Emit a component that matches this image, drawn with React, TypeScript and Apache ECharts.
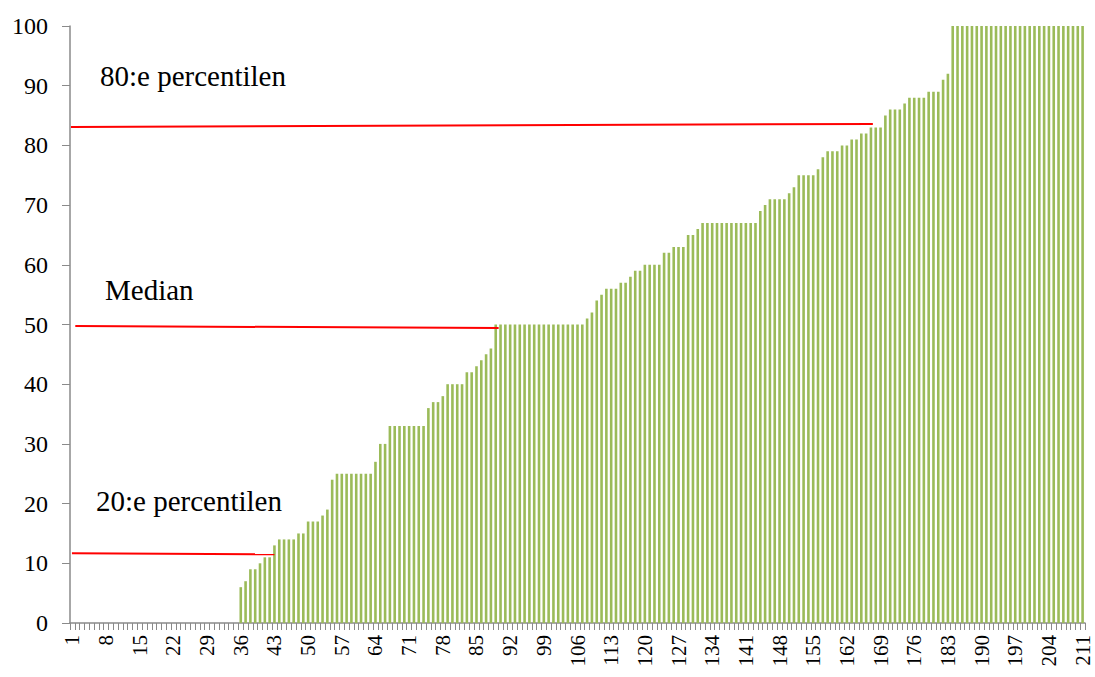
import React, { useEffect, useRef } from "react";
import * as echarts from "echarts";

// Category labels 1..211
const categories: string[] = Array.from({ length: 211 }, (_, i) => String(i + 1));

// Bar values (sorted ascending)
const values: number[] = [
  0, 0, 0, 0, 0, 0, 0, 0, 0, 0,
  0, 0, 0, 0, 0, 0, 0, 0, 0, 0,
  0, 0, 0, 0, 0, 0, 0, 0, 0, 0,
  0, 0, 0, 0, 0, 6, 7, 9, 9, 10,
  11, 11, 13, 14, 14, 14, 14, 15, 15, 17,
  17, 17, 18, 19, 24, 25, 25, 25, 25, 25,
  25, 25, 25, 27, 30, 30, 33, 33, 33, 33,
  33, 33, 33, 33, 36, 37, 37, 38, 40, 40,
  40, 40, 42, 42, 43, 44, 45, 46, 50, 50,
  50, 50, 50, 50, 50, 50, 50, 50, 50, 50,
  50, 50, 50, 50, 50, 50, 50, 51, 52, 54,
  55, 56, 56, 56, 57, 57, 58, 59, 59, 60,
  60, 60, 60, 62, 62, 63, 63, 63, 65, 65,
  66, 67, 67, 67, 67, 67, 67, 67, 67, 67,
  67, 67, 67, 69, 70, 71, 71, 71, 71, 72,
  73, 75, 75, 75, 75, 76, 78, 79, 79, 79,
  80, 80, 81, 81, 82, 82, 83, 83, 83, 85,
  86, 86, 86, 87, 88, 88, 88, 88, 89, 89,
  89, 91, 92, 100, 100, 100, 100, 100, 100, 100,
  100, 100, 100, 100, 100, 100, 100, 100, 100, 100,
  100, 100, 100, 100, 100, 100, 100, 100, 100, 100,
  100,
];

// Annotation lines: [x (continuous category position), y value]
const p80Line: [number, number][] = [[0.2, 83.1], [166.9, 83.6]];
const medianLine: [number, number][] = [[1.1, 49.75], [89.1, 49.4]];
const p20Line: [number, number][] = [[0.4, 11.7], [42.5, 11.5]];

const annotationLabels = ["80:e percentilen", "Median", "20:e percentilen"];

const FONT = "Liberation Serif, Times New Roman, serif";

export default function App() {
  const ref = useRef<HTMLDivElement>(null);

  useEffect(() => {
    if (!ref.current) return;
    const chart = echarts.init(ref.current, undefined, { renderer: "svg" });
    const axisGray = "#8a8a8a";
    const redLine = (data: [number, number][]) => ({
      type: "line",
      xAxisIndex: 1,
      data,
      symbol: "none",
      silent: true,
      lineStyle: { color: "#ff0000", width: 2 },
      z: 5,
    });
    const annotation = (text: string, left: number, top: number) => ({
      type: "text",
      left,
      top,
      style: { text, fontSize: 29, fontFamily: FONT, fill: "#000" },
    });
    chart.setOption({
      animation: false,
      backgroundColor: "#ffffff",
      textStyle: { fontFamily: FONT },
      grid: { left: 70, right: 10, top: 26, bottom: 54, outerBoundsMode: "none" },
      xAxis: [
        {
          type: "category",
          data: categories,
          boundaryGap: true,
          axisLine: { lineStyle: { color: axisGray, width: 1.5 } },
          axisTick: { show: true, interval: 0, length: 7, lineStyle: { color: axisGray } },
          axisLabel: {
            interval: 6,
            rotate: 90,
            margin: 12,
            color: "#000",
            fontSize: 21,
            lineHeight: 16,
            fontFamily: FONT,
          },
          splitLine: { show: false },
        },
        {
          type: "value",
          min: 0,
          max: 211,
          show: false,
        },
      ],
      yAxis: {
        type: "value",
        min: 0,
        max: 100,
        interval: 10,
        axisLine: { show: true, lineStyle: { color: axisGray, width: 1.5 } },
        axisTick: { show: true, length: 8, lineStyle: { color: axisGray } },
        axisLabel: { margin: 22, color: "#000", fontSize: 24, fontFamily: FONT },
        splitLine: { show: false },
      },
      series: [
        {
          type: "bar",
          data: values,
          barWidth: 2.6,
          itemStyle: { color: "#9BBB59" },
          silent: true,
        },
        redLine(p80Line),
        redLine(medianLine),
        redLine(p20Line),
      ],
      graphic: [
        annotation(annotationLabels[0], 100, 61),
        annotation(annotationLabels[1], 105, 275),
        annotation(annotationLabels[2], 96, 486),
      ],
    });
    return () => chart.dispose();
  }, []);

  return (
    <div
      ref={ref}
      style={{ position: "absolute", left: 0, top: 0, width: 1095, height: 677 }}
    />
  );
}
